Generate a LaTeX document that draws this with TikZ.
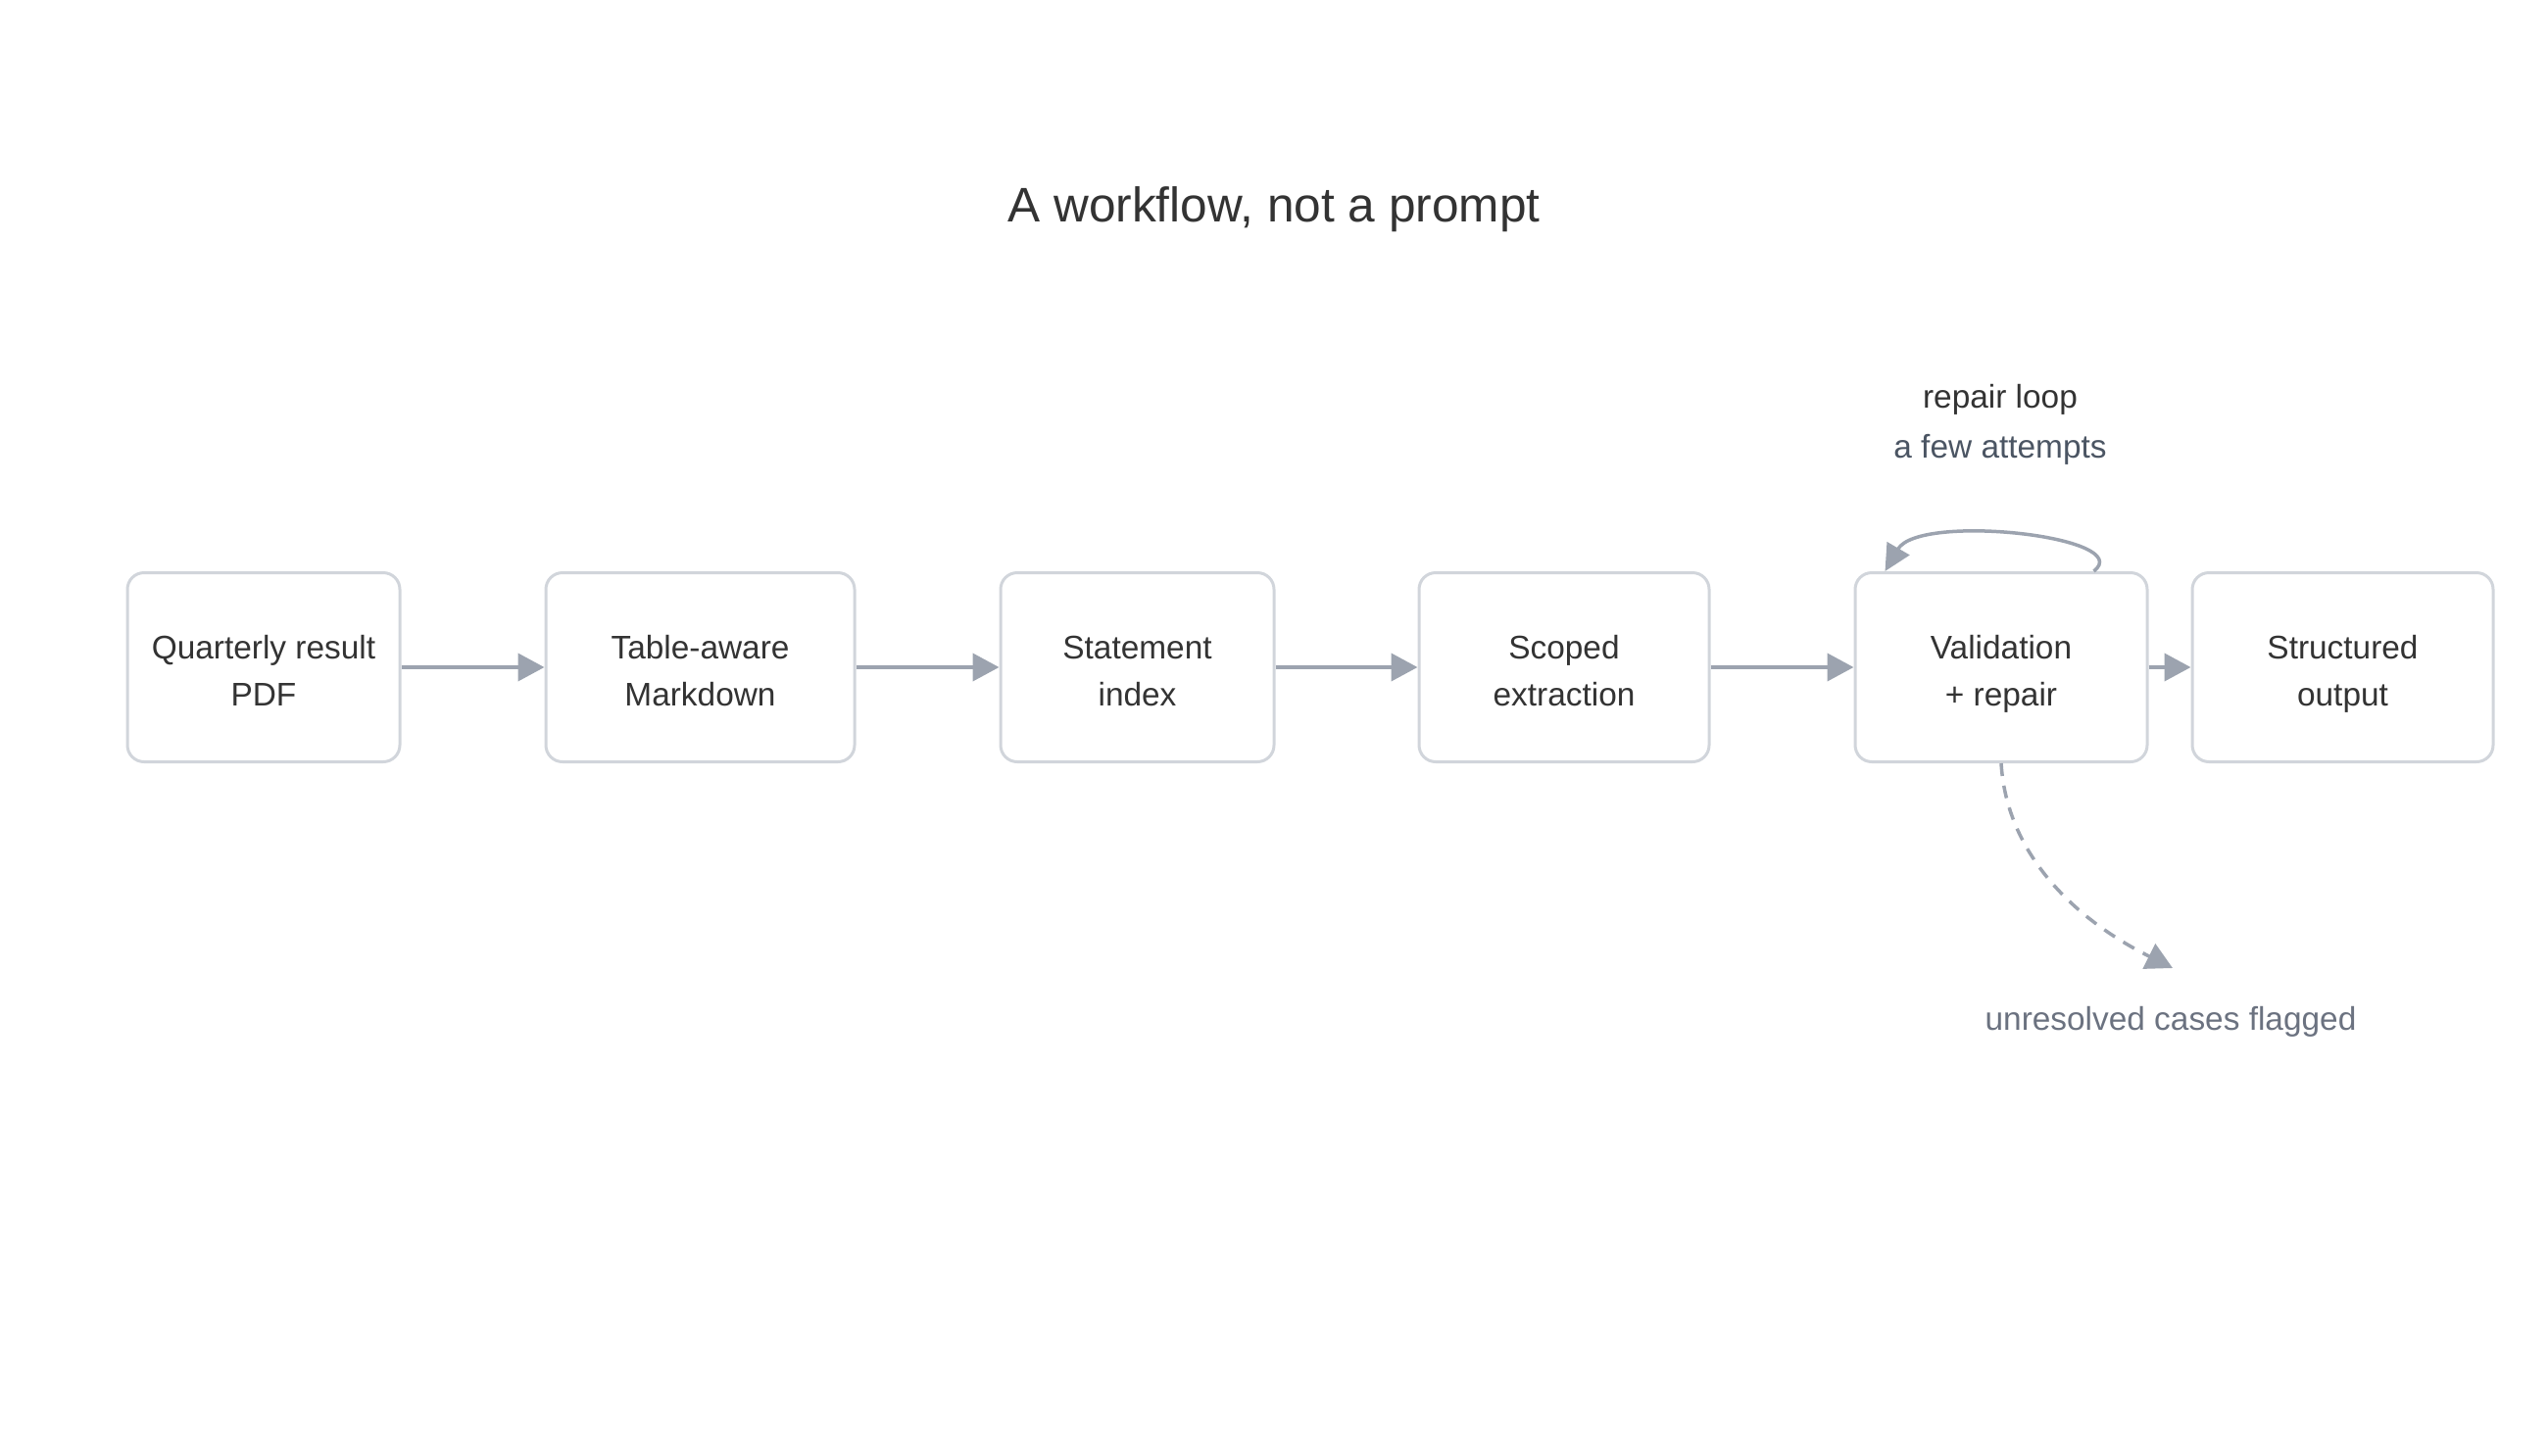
\documentclass[tikz,border=0pt]{standalone}
\usepackage{fontspec}
\setmainfont{Liberation Sans}
\usetikzlibrary{arrows.meta}
\definecolor{boxline}{HTML}{D1D5DB}
\definecolor{arrowc}{HTML}{9CA3AF}
\definecolor{txt}{HTML}{333333}
\definecolor{subtxt}{HTML}{4B5563}
\definecolor{notetxt}{HTML}{6B7280}
\newcommand{\topl}{\rule{0pt}{38pt}}
\newcommand{\botl}{\vphantom{y}}
\tikzset{
  stagebox/.style={draw=boxline, line width=3pt, fill=white, rounded corners=17pt,
    minimum height=193pt, inner sep=0pt, align=center, text=txt,
    font=\fontsize{33.4}{48}\selectfont},
  flow/.style={draw=arrowc, line width=4pt, -{Triangle[length=27pt,width=28pt]}},
  loopc/.style={draw=arrowc, line width=3.5pt, -{Triangle[length=27pt,width=26pt]}},
  flagc/.style={draw=arrowc, line width=3.5pt, dash pattern=on 13pt off 10pt,
    -{Triangle[length=27pt,width=28pt]}},
  lbl/.style={font=\fontsize{33.4}{48}\selectfont, inner sep=0pt}
}
\begin{document}
\begin{tikzpicture}[x=1pt,y=-1pt]
\useasboundingbox (0,0) rectangle (2600,1486);
\node[font=\fontsize{49.6}{60}\selectfont, text=txt, inner sep=0pt] (title) at (1300,214) {A workflow, not a prompt};

\node[stagebox, minimum width=278pt] (a) at (269,681) {\topl Quarterly result\\PDF\botl};
\node[stagebox, minimum width=315pt] (b) at (714.5,681) {\topl Table-aware\\Markdown\botl};
\node[stagebox, minimum width=279pt] (c) at (1160.5,681) {\topl Statement\\index\botl};
\node[stagebox, minimum width=296pt] (d) at (1596,681) {\topl Scoped\\extraction\botl};
\node[stagebox, minimum width=298pt] (v) at (2042,681) {\topl Validation\\+ repair\botl};
\node[stagebox, minimum width=307pt] (o) at (2390.5,681) {\topl Structured\\output\botl};

\draw[flow] (a) -- (b);
\draw[flow] (b) -- (c);
\draw[flow] (c) -- (d);
\draw[flow] (d) -- (v);
\draw[flow] (v) -- (o);

\draw[loopc] ([xshift=-56pt]v.north east) .. controls +(45,-35) and +(35,-60) .. ([xshift=32pt]v.north west);
\node[lbl, text=txt] (rl) at (2041,408) {repair loop};
\node[lbl, text=subtxt] (fa) at (2041,459) {a few attempts};

\coordinate (flag) at (2217,988);
\draw[flagc] (v.south) .. controls +(5,85) and +(-110,-55) .. (flag);
\node[lbl, text=notetxt] (un) at (2215,1043) {unresolved cases flagged};
\end{tikzpicture}
\end{document}
